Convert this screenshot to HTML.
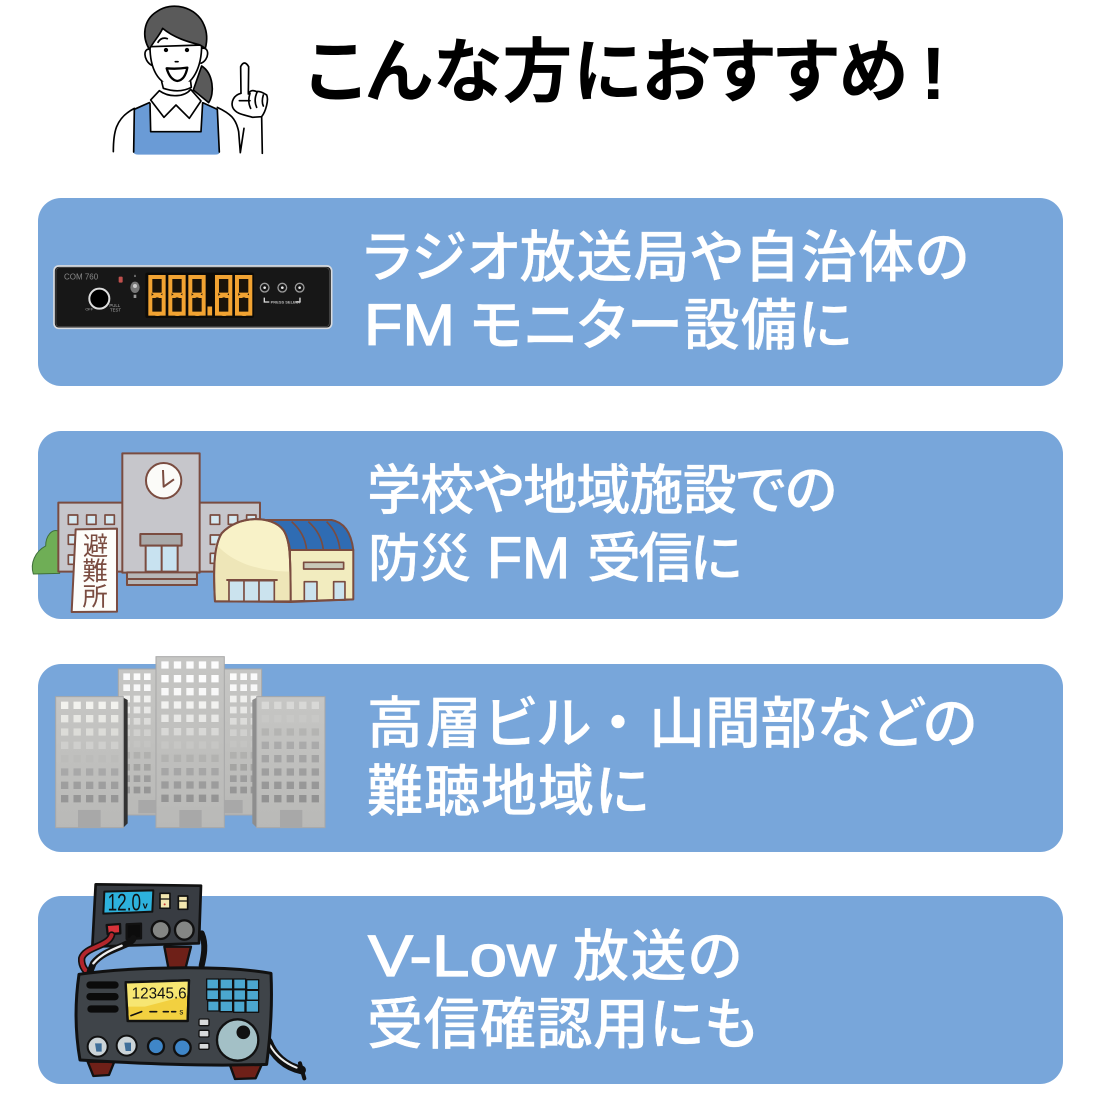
<!DOCTYPE html>
<html lang="ja"><head><meta charset="utf-8"><title>こんな方におすすめ！</title>
<style>html,body{margin:0;padding:0;background:#fff}svg{display:block}
.t{font-family:"Noto Sans CJK JP",sans-serif;font-size:56px;font-weight:500;fill:#fff;stroke:#fff;stroke-width:.3px;font-feature-settings:"palt"}
.l{font-family:"Liberation Sans",sans-serif;font-size:58px;fill:#fff;stroke:#fff;stroke-width:1.3px}
.z{font-family:"Liberation Sans",sans-serif}</style></head><body>
<svg xmlns="http://www.w3.org/2000/svg" width="1100" height="1100" viewBox="0 0 1100 1100">
<defs>
<linearGradient id="bg" x1="0" y1="0" x2="0" y2="1"><stop offset="0" stop-color="#c6c6c4"/><stop offset="1" stop-color="#b9b9b7"/></linearGradient>
</defs>
<rect width="1100" height="1100" fill="#fff"/>
<text x="306" y="96" textLength="602" lengthAdjust="spacing" style="font-family:'Noto Sans CJK JP',sans-serif;font-size:70px;font-weight:700;fill:#000;font-feature-settings:'palt'">こんな方におすすめ</text>
<text x="921" y="99" style="font-family:'Liberation Sans',sans-serif;font-size:74px;font-weight:700;fill:#000">!</text>

<rect x="38" y="198" width="1025" height="188" rx="23" fill="#78a6da"/>
<rect x="38" y="431" width="1025" height="188" rx="23" fill="#78a6da"/>
<rect x="38" y="664" width="1025" height="188" rx="23" fill="#78a6da"/>
<rect x="38" y="896" width="1025" height="188" rx="23" fill="#78a6da"/>

<text class="t" x="363" y="277" textLength="606" lengthAdjust="spacing">ラジオ放送局や自治体の</text>
<text class="l" x="364" y="345" textLength="91" lengthAdjust="spacingAndGlyphs">FM</text>
<text class="t" x="470" y="345" textLength="382" lengthAdjust="spacing">モニター設備に</text>
<text class="t" x="367" y="509" textLength="470" lengthAdjust="spacing" style="font-size:54px">学校や地域施設での</text>
<text class="t" x="368" y="577" textLength="103" lengthAdjust="spacing" style="font-size:52px">防災</text>
<text class="l" x="487" y="578" textLength="83" lengthAdjust="spacingAndGlyphs">FM</text>
<text class="t" x="587" y="577" textLength="155" lengthAdjust="spacing" style="font-size:54px">受信に</text>
<text class="t" x="367" y="743" textLength="224" lengthAdjust="spacing">高層ビル</text>
<text class="t" x="590" y="743" style="font-feature-settings:normal">・</text>
<text class="t" x="649" y="743" textLength="328" lengthAdjust="spacing">山間部などの</text>
<text class="t" x="367" y="811" textLength="282" lengthAdjust="spacing">難聴地域に</text>
<text class="l" x="368" y="976" textLength="188" lengthAdjust="spacingAndGlyphs">V-Low</text>
<text class="t" x="573" y="976" textLength="169" lengthAdjust="spacing">放送の</text>
<text class="t" x="367" y="1044" textLength="390" lengthAdjust="spacing">受信確認用にも</text>

<!-- woman -->
<g transform="translate(100,0) scale(.3333)" stroke="#000" stroke-width="5" stroke-linejoin="round" stroke-linecap="round" fill="none">
<path d="M305 198C340 220 345 280 326 308L280 270Z" fill="#5a5a5a"/>
<path d="M103 328L148 308 150 395 303 395 308 308 352 328 358 458Q358 464 345 464L115 464Q103 464 101 458Z" fill="#6a9bd6" stroke="none"/>
<path d="M101 456L103 328 148 308M150 310L152 395 303 395 308 308 352 328 358 456"/>
<path d="M40 455C40 400 45 355 103 325M352 322C390 340 408 355 416 395L421 458 432 385"/>
<path d="M150 148C130 142 128 180 155 196M306 145C330 140 328 180 303 190" fill="#fff"/>
<path d="M150 140C150 200 170 256 232 262C280 256 305 200 305 135Z" fill="#fff"/>
<path d="M148 148C125 110 130 60 170 35C215 2 290 20 312 75C325 105 320 130 316 145L300 135C285 130 230 120 188 85C180 105 160 125 148 148Z" fill="#5a5a5a"/>
<path d="M185 245L190 265C220 275 250 275 274 262L272 245" fill="#fff"/>
<path d="M178 272L152 300 192 352 228 315 268 355 303 303 272 268C255 290 210 295 178 272Z" fill="#fff"/>
<circle cx="198" cy="150" r="4" fill="#000"/><circle cx="261" cy="150" r="4" fill="#000"/>
<path d="M226 185H234" /><path d="M174 127Q184 110 202 116" stroke-width="5"/>
<path d="M200 205Q230 208 262 203Q255 240 232 243Q210 240 200 205Z" fill="#fff" stroke-width="7"/>
<path d="M423 280L422 200Q433 178 446 200L445 280" fill="#fff"/>
<path d="M423 280C402 285 392 305 398 322C408 345 440 345 458 352L485 350C497 335 507 300 500 285C492 280 480 272 470 275C460 270 450 270 445 282" fill="#fff"/>
<path d="M418 302H450M450 280Q442 305 452 325M472 275Q460 300 470 322M490 285Q484 305 490 318"/>
<path d="M485 350L487 460"/>
</g>

<!-- radio panel -->
<g transform="translate(40,250) scale(.3333)">
<rect x="42" y="48" width="833" height="187" rx="14" fill="#1b1b1b" stroke="#d8dbdf" stroke-width="5"/>
<rect x="48" y="53" width="820" height="177" rx="10" fill="#171717" stroke="#555" stroke-width="2"/>
<text class="z" x="72" y="88" font-size="24" fill="#8a8a8a">COM 760</text>
<rect x="236" y="80" width="12" height="18" rx="3" fill="#c0504d"/>
<circle cx="178" cy="146" r="30" fill="#000" stroke="#ddd" stroke-width="6"/>
<text class="z" x="136" y="182" font-size="12" fill="#aaa">OFF</text>
<text class="z" x="208" y="171" font-size="13" fill="#aaa">PULL</text><text class="z" x="210" y="185" font-size="13" fill="#aaa">TEST</text>
<ellipse cx="285" cy="112" rx="14" ry="17" fill="#777"/><circle cx="285" cy="108" r="6" fill="#ccc"/>
<rect x="281" y="134" width="8" height="10" fill="#999"/><path d="M282 80h6l-3-7z" fill="#aaa"/>
<rect x="316" y="68" width="326" height="136" rx="6" fill="#0d0b08"/>
<g fill="none" stroke="#f2a332" stroke-width="10">
<rect x="330" y="80" width="42" height="112"/>
<rect x="390" y="80" width="42" height="112"/>
<rect x="450" y="80" width="42" height="112"/>
<rect x="530" y="80" width="42" height="112"/>
<rect x="590" y="80" width="42" height="112"/>
</g>
<g transform="translate(322,196) scale(.55,1)"><text style="font-family:'Liberation Mono',monospace;font-weight:700;font-size:180px;fill:#f2a332" x="0 109 218 287 364 473" y="0">888.88</text></g>
<path fill="#1a130a" d="M337 87h28v41h-28zM337 144h28v41h-28zM397 87h28v41h-28zM397 144h28v41h-28zM457 87h28v41h-28zM457 144h28v41h-28zM537 87h28v41h-28zM537 144h28v41h-28zM597 87h28v41h-28zM597 144h28v41h-28z"/>
<g fill="none" stroke="#ddd" stroke-width="4">
<circle cx="674" cy="113" r="13" stroke="#9a9a9a"/><circle cx="727" cy="113" r="13" stroke="#9a9a9a"/><circle cx="779" cy="113" r="13" stroke="#9a9a9a"/>
<path d="M673 143V156H688M780 143V156H766"/></g>
<circle cx="674" cy="113" r="4" fill="#eee"/><circle cx="727" cy="113" r="4" fill="#eee"/><circle cx="779" cy="113" r="4" fill="#eee"/>
<text class="z" x="692" y="160" font-size="12" fill="#bbb" font-weight="700">PRESS SELECT</text>
</g>

<!-- shelter -->
<g transform="translate(25,440) scale(.3333)" stroke="#7a4c40" stroke-width="6" stroke-linejoin="round">
<path d="M104 400L104 275C80 262 62 290 62 318C30 335 15 370 25 402Z" fill="#6fae56" stroke="#3f6f3a" stroke-width="3"/>
<path d="M100 188H705V395H100Z" fill="#c6c6cb"/>
<rect x="292" y="40" width="232" height="358" fill="#c6c6cb"/>
<circle cx="416" cy="122" r="53" fill="#fbfbf8"/>
<path d="M414 90L416 140 447 118" fill="none"/>
<rect x="346" y="282" width="124" height="35" fill="#a9a9a9"/>
<rect x="362" y="317" width="96" height="78" fill="#c8e2f0"/><path d="M410 317V395" fill="none"/>
<rect x="306" y="397" width="210" height="20" fill="#b7b7b7"/><rect x="306" y="417" width="210" height="18" fill="#b7b7b7"/>
<g fill="#d5e8f0" stroke-width="5">
<rect x="130" y="225" width="28" height="28"/><rect x="185" y="225" width="28" height="28"/><rect x="240" y="225" width="28" height="28"/>
<rect x="130" y="285" width="28" height="28"/><rect x="130" y="345" width="28" height="28"/>
<rect x="556" y="225" width="28" height="28"/><rect x="610" y="225" width="28" height="28"/><rect x="665" y="225" width="28" height="28"/>
<rect x="556" y="285" width="28" height="28"/><rect x="556" y="340" width="28" height="30"/>
</g>
<path d="M152 268L276 266 276 515 140 516Z" fill="#fdfdfa"/>
<g style="font-family:'Noto Sans CJK JP',sans-serif;font-weight:400" font-size="76" fill="#7a4c40" stroke="none" text-anchor="middle">
<text x="212" y="345">避</text><text x="210" y="420">難</text><text x="210" y="497">所</text></g>
<path d="M720 240H920Q975 250 985 330H795Q790 270 720 240Z" fill="#2f6cb3"/>
<path d="M800 245Q840 280 845 330M850 245Q890 280 895 330M905 245Q940 280 945 330" fill="none" stroke-width="5"/>
<path d="M795 330H985V478L795 484Z" fill="#f2ecbf"/>
<path d="M570 484C565 400 565 320 590 280C640 225 740 225 775 270C795 300 797 340 797 484Z" fill="#f8f2c8"/>
<path d="M572 310C620 370 710 395 797 395V484L572 484Z" fill="#eee6b8" stroke="none"/>
<path d="M570 484C565 400 565 320 590 280C640 225 740 225 775 270C795 300 797 340 797 484Z" fill="none"/>
<path d="M604 420H758" fill="none"/>
<rect x="612" y="422" width="136" height="62" fill="#cbe3ee" stroke-width="5"/>
<path d="M657 422V484M702 422V484" fill="none" stroke-width="5"/>
<rect x="836" y="367" width="120" height="20" fill="#c8c8b8" stroke-width="5"/>
<rect x="838" y="425" width="38" height="58" fill="#cbe3ee" stroke-width="5"/>
<rect x="926" y="425" width="34" height="55" fill="#cbe3ee" stroke-width="5"/>
<path d="M570 484L797 486 985 478" fill="none"/>
</g>

<!-- buildings -->
<g transform="translate(40,650) scale(.3333)">
<rect x="235" y="57" width="430" height="438" fill="url(#bg)" stroke="#a8a8a8" stroke-width="3"/>
<g fill="none" stroke-width="20" stroke-dasharray="20 11">
<path d="M250 80H340M570 80H660" stroke="#fbfbfb"/><path d="M250 113H340M570 113H660" stroke="#f8f8f8"/>
<path d="M250 147H340M570 147H660" stroke="#f0f0ee"/><path d="M250 180H340M570 180H660" stroke="#e8e8e6"/>
<path d="M250 214H340M570 214H660" stroke="#dcdcda"/><path d="M250 248H340M570 248H660" stroke="#d0d0ce"/>
<path d="M250 282H340M570 282H660" stroke="#c4c4c2"/><path d="M250 316H340M570 316H660" stroke="#b0b0ae"/>
<path d="M250 352H340M570 352H660" stroke="#a4a4a2"/><path d="M250 386H340M570 386H660" stroke="#9c9c9c"/>
<path d="M250 420H340M570 420H660" stroke="#969696"/></g>
<rect x="295" y="450" width="55" height="40" fill="#a8a8a8"/><rect x="553" y="450" width="55" height="40" fill="#a8a8a8"/>
<path d="M250 143L263 150V520L250 533Z" fill="#333"/>
<path d="M650 143L637 150V520L650 533Z" fill="#8e8e8e"/>
<rect x="47" y="140" width="203" height="393" fill="url(#bg)" stroke="#a8a8a8" stroke-width="3"/>
<rect x="650" y="140" width="205" height="393" fill="url(#bg)" stroke="#a8a8a8" stroke-width="3"/>
<rect x="348" y="20" width="205" height="513" fill="url(#bg)" stroke="#a8a8a8" stroke-width="3"/>
<g fill="none" stroke-width="22" stroke-dasharray="22 15.5">
<path d="M63 166H235" stroke="#f2f2ee"/><path d="M63 206H235" stroke="#e8e8e4"/><path d="M63 246H235" stroke="#dcdcd8"/>
<path d="M63 286H235" stroke="#cfcfcd"/><path d="M63 326H235" stroke="#bcbcba"/><path d="M63 366H235" stroke="#a8a8a8"/>
<path d="M63 406H235" stroke="#9e9e9e"/><path d="M63 446H235" stroke="#969696"/>
<path d="M364 45H540" stroke="#fcfcfc"/><path d="M364 86H540" stroke="#fcfcfc"/><path d="M364 125H540" stroke="#f8f8f8"/>
<path d="M364 165H540" stroke="#f2f2f0"/><path d="M364 205H540" stroke="#e8e8e6"/><path d="M364 245H540" stroke="#d8d8d6"/>
<path d="M364 285H540" stroke="#c6c6c4"/><path d="M364 325H540" stroke="#b2b2b0"/><path d="M364 365H540" stroke="#a6a6a6"/>
<path d="M364 405H540" stroke="#9c9c9c"/><path d="M364 445H540" stroke="#949494"/>
<path d="M665 166H842" stroke="#d8d8d6"/><path d="M665 206H842" stroke="#c8c8c6"/><path d="M665 246H842" stroke="#b4b4b2"/>
<path d="M665 286H842" stroke="#aaaaaa"/><path d="M665 326H842" stroke="#a4a4a4"/><path d="M665 366H842" stroke="#9e9e9e"/>
<path d="M665 406H842" stroke="#989898"/><path d="M665 446H842" stroke="#929292"/></g>
<rect x="114" y="480" width="68" height="52" fill="#a8a8a8"/><rect x="418" y="480" width="67" height="52" fill="#a8a8a8"/><rect x="720" y="480" width="67" height="52" fill="#a8a8a8"/>
</g>

<!-- radio -->
<g transform="translate(65,875) scale(.3333)" stroke="#111" stroke-width="7" stroke-linejoin="round" stroke-linecap="round">
<path d="M298 215L310 278 362 278 378 215Z" fill="#6e2018"/>
<path d="M410 175C425 210 415 250 410 272" fill="none" stroke-width="18"/>
<path d="M92 28L408 32 402 205 82 215Z" fill="#383c42" stroke-width="8"/>
<path d="M118 50L265 46 262 110 115 116Z" fill="#2db2dd" stroke-width="6"/>
<text class="z" x="128" y="106" font-size="72" fill="#111" stroke="none" textLength="100" lengthAdjust="spacingAndGlyphs">12.0</text>
<text class="z" x="233" y="100" font-size="28" font-weight="700" fill="#111" stroke="none">v</text>
<rect x="285" y="55" width="30" height="45" fill="#f2e6b0" stroke-width="5"/><rect x="340" y="63" width="28" height="40" fill="#f2e6b0" stroke-width="5"/>
<path d="M285 72H315M340 78H368" fill="none" stroke-width="4"/>
<circle cx="299" cy="88" r="3" fill="#c33" stroke="none"/>
<ellipse cx="287" cy="165" rx="27" ry="27" fill="#848684"/><ellipse cx="358" cy="165" rx="28" ry="29" fill="#848684"/>
<path d="M125 150L165 147 166 175 128 178Z" fill="#d8333a"/>
<path d="M185 148L228 146 228 190 185 192Z" fill="#0c0c0c"/>
<path d="M140 180C130 215 60 215 50 250C48 275 65 295 80 298" fill="none" stroke="#111" stroke-width="22"/>
<path d="M140 180C130 215 60 215 50 250C48 275 65 295 80 298" fill="none" stroke="#b3262c" stroke-width="12"/>
<path d="M205 190C195 215 120 220 85 265L75 290" fill="none" stroke="#111" stroke-width="20"/>
<path d="M170 212C150 220 110 235 85 265" fill="none" stroke="#eee" stroke-width="7"/>
<path d="M68 560L85 603 132 600 148 560Z" fill="#6e2018"/><path d="M493 565L510 612 572 610 592 565Z" fill="#6e2018"/>
<path d="M610 500C625 540 660 575 710 585" fill="none" stroke-width="26"/>
<path d="M615 510C630 540 660 565 695 578" fill="none" stroke="#eee" stroke-width="6"/>
<path d="M705 565L718 610" fill="none" stroke-width="12"/>
<path d="M42 298C200 275 480 270 618 295C622 380 618 470 605 568C420 575 220 565 45 555C30 470 30 380 42 298Z" fill="#3f4449" stroke-width="9"/>
<path d="M75 330H150M75 365H150M78 402H150" fill="none" stroke="#0b0b0b" stroke-width="22"/>
<path d="M182 322L372 316 368 438 188 438Z" fill="#f2d040"/>
<path d="M182 322L372 316 372 360 240 395 186 395Z" fill="#f7e672" stroke="none"/>
<path d="M182 322L372 316 368 438 188 438Z" fill="none"/>
<text class="z" x="200" y="370" font-size="46" fill="#111" stroke="none" textLength="165" lengthAdjust="spacingAndGlyphs">12345.6</text>
<path d="M198 422L230 410M255 410H275M295 410H310M320 410H332" fill="none" stroke-width="5"/>
<text class="z" x="343" y="418" font-size="24" fill="#111" stroke="none">s</text>
<g fill="#4ba7cf" stroke-width="4">
<rect x="425" y="312" width="36" height="30"/><rect x="465" y="312" width="38" height="30"/><rect x="506" y="312" width="36" height="30"/><rect x="545" y="314" width="36" height="30"/>
<rect x="425" y="344" width="36" height="30"/><rect x="465" y="344" width="38" height="32"/><rect x="506" y="344" width="36" height="32"/><rect x="545" y="346" width="36" height="30"/>
<rect x="428" y="378" width="34" height="30"/><rect x="465" y="378" width="38" height="32"/><rect x="506" y="378" width="34" height="34"/><rect x="543" y="376" width="38" height="36"/>
</g>
<g fill="#d8dadb" stroke-width="4"><rect x="402" y="432" width="30" height="20" rx="4"/><rect x="402" y="466" width="30" height="20" rx="4"/><rect x="402" y="505" width="30" height="18" rx="4"/></g>
<circle cx="518" cy="495" r="62" fill="#a3c0c6"/><circle cx="535" cy="472" r="17" fill="#111"/>
<g fill="#ccd4d8" stroke-width="6"><circle cx="98" cy="515" r="30"/><circle cx="185" cy="512" r="30"/></g>
<path d="M90 505H110V530H94Z M178 503H198V528H182Z" fill="#3f6f9a" stroke="none"/>
<circle cx="273" cy="514" r="24" fill="#3f86c8"/><circle cx="352" cy="518" r="25" fill="#3f86c8"/>
</g>
</svg>
</body></html>
